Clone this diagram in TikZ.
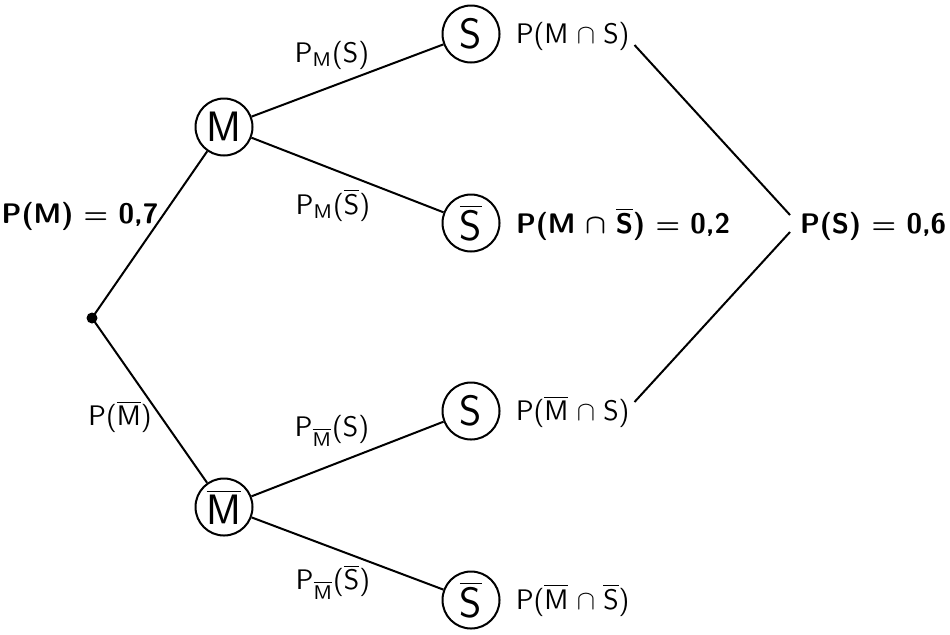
\documentclass[tikz,border=0pt]{standalone}
\usetikzlibrary{calc}
\newcommand\ovl[1]{$\overline{\mbox{#1}}$}
\newcommand\capop{$\mkern5.5mu\cap\mkern5.5mu$}
\begin{document}
\begin{tikzpicture}[x=0.4pt,y=-0.4pt, line width=0.8pt,
  ev/.style={circle,draw,minimum size=22.8pt,inner sep=0pt,font=\sffamily\fontsize{17}{20}\selectfont},
  lab/.style={font=\sffamily\fontsize{11.3}{13}\selectfont, inner sep=0pt},
  res/.style={lab, anchor=west},
  bres/.style={res, font=\sffamily\bfseries\boldmath\fontsize{11.3}{13}\selectfont}]
\useasboundingbox (0,0) rectangle (950,634);
% tree nodes
\coordinate (r) at (92,318);
\fill (r) circle[radius=5.5];
\node[ev] (M)  at (224,127) {M};
\node[ev] (Mb) at (224,507) {\ovl{M}};
\node[ev] (S1) at (471,34)  {S};
\node[ev] (S2) at (471,223) {\ovl{S}};
\node[ev] (S3) at (471,411) {S};
\node[ev] (S4) at (471,600) {\ovl{S}};
% branches
\draw (r) -- (M);
\draw (r) -- (Mb);
\draw (M) -- (S1);
\draw (M) -- (S2);
\draw (Mb) -- (S3);
\draw (Mb) -- (S4);
% branch labels
\node[bres, anchor=center] (pm) at (80,216) {P(M) $=$ 0,7};
\node[lab] (pmb) at (120,417) {P(\ovl{M})};
\node[lab] (l1) at (332,55)  {P\textsubscript{M}(S)};
\node[lab] (l2) at (333,205) {P\textsubscript{M}(\ovl{S})};
\node[lab] (l3) at (332,431) {P\textsubscript{\ovl{M}}(S)};
\node[lab] (l4) at (333,582) {P\textsubscript{\ovl{M}}(\ovl{S})};
% results
\node[res]  (r1) at (515,36)  {P(M\capop S)};
\node[bres] (r2) at (515,224) {P(M\capop\ovl{S}) $=$ 0,2};
\node[res]  (r3) at (515,412) {P(\ovl{M}\capop S)};
\node[res]  (r4) at (515,600) {P(\ovl{M}\capop\ovl{S})};
\node[bres] (ps) at (799,226) {P(S) $=$ 0,6};
% sum lines
\draw ($(r1.east)+(4,9)$) -- ($(ps.west)+(-9,-11)$);
\draw ($(r3.east)+(4,-10)$) -- ($(ps.west)+(-9,6)$);
\end{tikzpicture}
\end{document}
